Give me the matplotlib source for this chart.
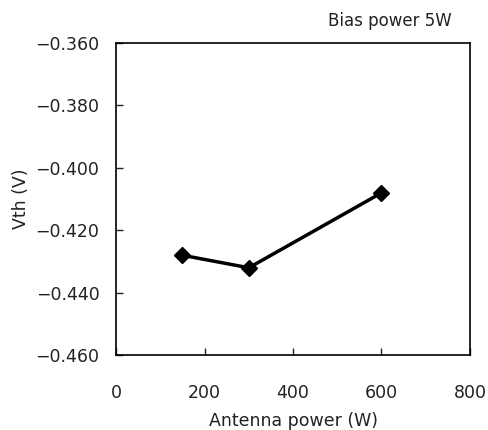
import matplotlib
matplotlib.use("Agg")
import matplotlib.pyplot as plt

# values
antenna_power = [150, 300, 600]
vth = [-0.428, -0.432, -0.408]
x_ticks = [0, 200, 400, 600, 800]
y_ticks = [-0.460, -0.440, -0.420, -0.400, -0.380, -0.360]

plt.rcParams['font.family'] = ['DejaVu Sans']
plt.rcParams['axes.unicode_minus'] = True

fig = plt.figure(figsize=(4.88, 4.30), dpi=100)
ax = fig.add_axes([0.238, 0.174, 0.725, 0.726])

ax.plot(antenna_power, vth, color='black', linewidth=2.5,
        marker='D', markersize=8, markerfacecolor='black', markeredgecolor='black')

ax.set_xlim(0, 800)
ax.set_ylim(-0.46, -0.36)
ax.set_xticks(x_ticks)
ax.set_yticks(y_ticks)
ax.set_yticklabels([f"{v:.3f}".replace('-', '\u2212') for v in y_ticks])
ax.tick_params(direction='in', length=5, width=1, labelsize=12.5, pad=12, colors='#222222')
ax.tick_params(axis='x', pad=21)
for side in ['left', 'bottom', 'top', 'right']:
    ax.spines[side].set_linewidth(1.2)

ax.set_xlabel('Antenna power (W)', fontsize=12.5, labelpad=7, color='#222222')
ax.set_ylabel('Vth (V)', fontsize=12.5, labelpad=4, color='#222222')
fig.text(0.925, 0.952, 'Bias power 5W', ha='right', va='center', fontsize=12, color='#222222')

fig.savefig('out.png', dpi=100)
